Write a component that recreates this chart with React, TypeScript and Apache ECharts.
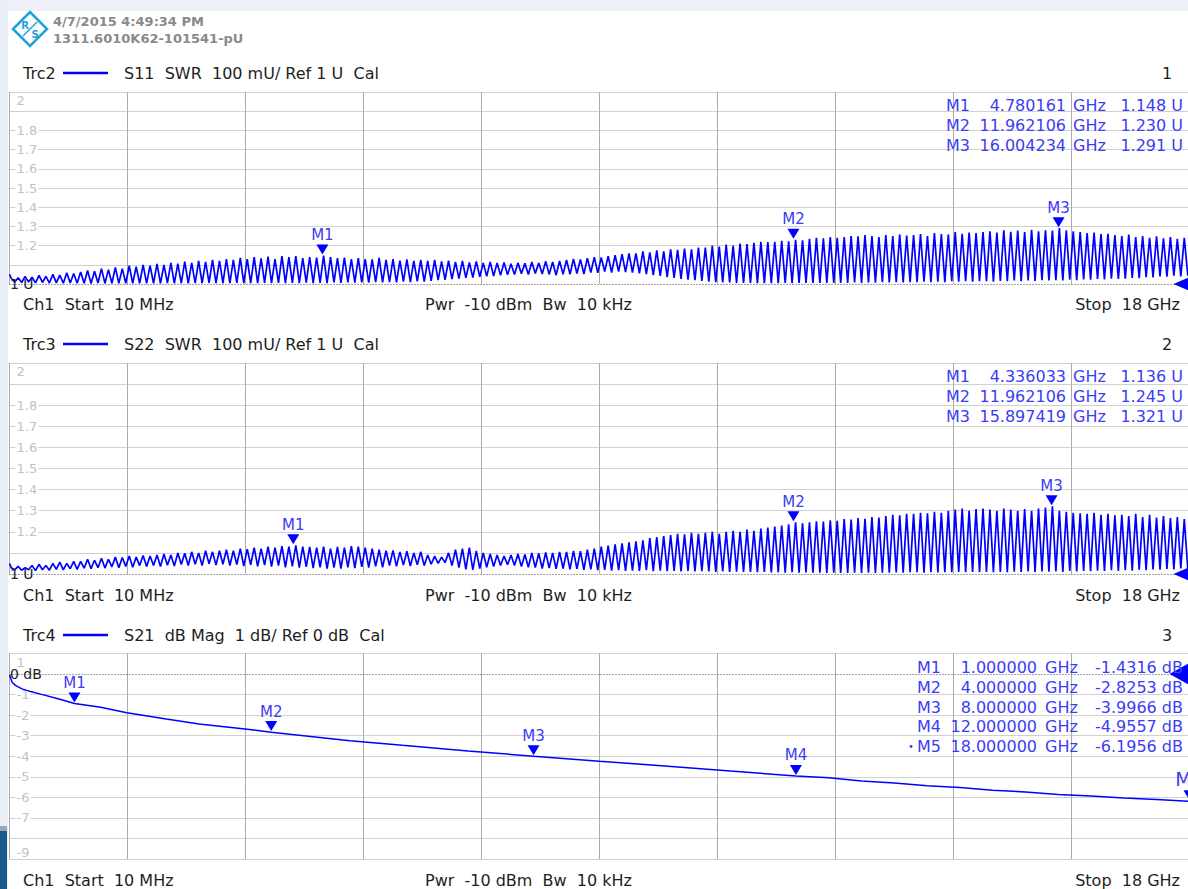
import React, { useEffect, useRef } from "react";
import * as echarts from "echarts";

// ---------- sweep / axes ----------
const START_GHZ = 0.01;
const STOP_GHZ = 18;
const SWR_TICKS = [1, 2, 0.1];
const DB_TICKS = [-9, 1, 1];

const S11_START = 1.05;
const S11_PEAKS = [
  1.030, 1.032, 1.040, 1.035, 1.045, 1.040, 1.050, 1.046, 1.058, 1.055,
  1.062, 1.070, 1.066, 1.080, 1.075, 1.086, 1.080, 1.095, 1.090, 1.100,
  1.096, 1.105, 1.100, 1.110, 1.106, 1.116, 1.110, 1.120, 1.115, 1.126,
  1.120, 1.130, 1.125, 1.136, 1.130, 1.140, 1.134, 1.142, 1.130, 1.145,
  1.140, 1.145, 1.135, 1.140, 1.138, 1.148, 1.140, 1.135, 1.138, 1.130,
  1.135, 1.130, 1.128, 1.136, 1.125, 1.130, 1.122, 1.128, 1.120, 1.125,
  1.120, 1.125, 1.118, 1.122, 1.115, 1.120, 1.112, 1.118, 1.110, 1.115,
  1.110, 1.112, 1.105, 1.110, 1.108, 1.115, 1.110, 1.118, 1.115, 1.120,
  1.125, 1.130, 1.128, 1.135, 1.140, 1.138, 1.145, 1.150, 1.155, 1.160,
  1.160, 1.170, 1.165, 1.175, 1.170, 1.180, 1.178, 1.185, 1.180, 1.190,
  1.190, 1.200, 1.195, 1.205, 1.200, 1.210, 1.208, 1.215, 1.220, 1.218,
  1.220, 1.225, 1.222, 1.230, 1.228, 1.235, 1.240, 1.238, 1.245, 1.240,
  1.245, 1.250, 1.248, 1.255, 1.250, 1.245, 1.255, 1.250, 1.258, 1.252,
  1.255, 1.260, 1.250, 1.265, 1.260, 1.258, 1.270, 1.262, 1.268, 1.265,
  1.270, 1.275, 1.268, 1.280, 1.272, 1.278, 1.270, 1.282, 1.275, 1.280,
  1.278, 1.291, 1.280, 1.275, 1.270, 1.265, 1.268, 1.260, 1.262, 1.255,
  1.250, 1.258, 1.245, 1.250, 1.240, 1.248, 1.238, 1.245, 1.235, 1.240,
];
const S11_TROUGHS = [
  1.010, 1.008, 1.010, 1.006, 1.008, 1.005, 1.006, 1.004, 1.005, 1.004,
  1.004, 1.003, 1.005, 1.003, 1.004, 1.003, 1.004, 1.003, 1.004, 1.003,
  1.004, 1.003, 1.005, 1.003, 1.004, 1.003, 1.005, 1.004, 1.006, 1.004,
  1.005, 1.004, 1.006, 1.004, 1.005, 1.004, 1.006, 1.005, 1.006, 1.005,
  1.006, 1.005, 1.007, 1.005, 1.006, 1.005, 1.008, 1.006, 1.008, 1.007,
  1.008, 1.007, 1.010, 1.008, 1.010, 1.009, 1.012, 1.010, 1.014, 1.012,
  1.016, 1.020, 1.022, 1.026, 1.028, 1.032, 1.034, 1.038, 1.040, 1.042,
  1.045, 1.048, 1.050, 1.054, 1.050, 1.055, 1.052, 1.050, 1.046, 1.050,
  1.050, 1.055, 1.052, 1.060, 1.058, 1.065, 1.060, 1.065, 1.062, 1.060,
  1.056, 1.052, 1.046, 1.042, 1.036, 1.032, 1.026, 1.022, 1.020, 1.016,
  1.012, 1.010, 1.008, 1.008, 1.006, 1.005, 1.005, 1.004, 1.004, 1.004,
  1.004, 1.005, 1.004, 1.006, 1.005, 1.006, 1.005, 1.006, 1.005, 1.006,
  1.006, 1.008, 1.006, 1.008, 1.007, 1.010, 1.008, 1.010, 1.008, 1.010,
  1.010, 1.012, 1.010, 1.012, 1.010, 1.014, 1.012, 1.014, 1.012, 1.015,
  1.015, 1.012, 1.016, 1.014, 1.018, 1.015, 1.018, 1.016, 1.020, 1.018,
  1.020, 1.018, 1.022, 1.020, 1.024, 1.022, 1.026, 1.024, 1.028, 1.026,
  1.028, 1.032, 1.030, 1.036, 1.034, 1.040, 1.038, 1.044, 1.040, 1.046,
];

// ---------- S22 (Trc3) ripple ----------
const S22_START = 1.05;
const S22_PEAKS = [
  1.030, 1.036, 1.030, 1.040, 1.046, 1.040, 1.050, 1.056, 1.050, 1.060,
  1.060, 1.070, 1.065, 1.075, 1.070, 1.080, 1.078, 1.085, 1.080, 1.088,
  1.085, 1.090, 1.095, 1.090, 1.100, 1.098, 1.105, 1.100, 1.110, 1.105,
  1.110, 1.115, 1.110, 1.120, 1.118, 1.125, 1.120, 1.130, 1.125, 1.132,
  1.130, 1.136, 1.130, 1.128, 1.125, 1.130, 1.120, 1.128, 1.125, 1.132,
  1.130, 1.125, 1.120, 1.115, 1.110, 1.112, 1.105, 1.108, 1.100, 1.105,
  1.090, 1.085, 1.080, 1.100, 1.115, 1.120, 1.125, 1.110, 1.100, 1.095,
  1.090, 1.085, 1.090, 1.095, 1.092, 1.100, 1.098, 1.102, 1.100, 1.105,
  1.105, 1.110, 1.108, 1.115, 1.120, 1.130, 1.135, 1.140, 1.145, 1.150,
  1.155, 1.160, 1.170, 1.175, 1.180, 1.185, 1.190, 1.188, 1.195, 1.190,
  1.195, 1.200, 1.190, 1.200, 1.205, 1.200, 1.210, 1.205, 1.215, 1.220,
  1.225, 1.230, 1.235, 1.245, 1.240, 1.245, 1.250, 1.248, 1.255, 1.252,
  1.260, 1.258, 1.265, 1.262, 1.270, 1.268, 1.275, 1.280, 1.278, 1.285,
  1.285, 1.290, 1.288, 1.295, 1.290, 1.300, 1.305, 1.310, 1.300, 1.308,
  1.310, 1.305, 1.300, 1.310, 1.305, 1.300, 1.308, 1.300, 1.310, 1.315,
  1.321, 1.300, 1.295, 1.290, 1.288, 1.285, 1.290, 1.280, 1.285, 1.278,
  1.280, 1.275, 1.285, 1.270, 1.280, 1.268, 1.275, 1.265, 1.270, 1.260,
];
const S22_TROUGHS = [
  1.020, 1.018, 1.020, 1.016, 1.020, 1.018, 1.022, 1.020, 1.025, 1.022,
  1.028, 1.025, 1.030, 1.028, 1.034, 1.030, 1.036, 1.032, 1.040, 1.035,
  1.040, 1.036, 1.042, 1.038, 1.045, 1.040, 1.046, 1.040, 1.048, 1.042,
  1.046, 1.040, 1.045, 1.038, 1.044, 1.036, 1.042, 1.035, 1.040, 1.032,
  1.036, 1.030, 1.034, 1.028, 1.032, 1.026, 1.030, 1.026, 1.032, 1.028,
  1.034, 1.030, 1.036, 1.032, 1.040, 1.036, 1.042, 1.038, 1.044, 1.040,
  1.046, 1.050, 1.054, 1.040, 1.030, 1.022, 1.020, 1.026, 1.032, 1.036,
  1.040, 1.044, 1.040, 1.036, 1.032, 1.030, 1.026, 1.028, 1.024, 1.026,
  1.022, 1.024, 1.020, 1.022, 1.018, 1.020, 1.016, 1.018, 1.015, 1.016,
  1.015, 1.018, 1.014, 1.016, 1.014, 1.015, 1.012, 1.014, 1.012, 1.013,
  1.012, 1.010, 1.012, 1.010, 1.011, 1.010, 1.010, 1.009, 1.010, 1.008,
  1.008, 1.006, 1.008, 1.006, 1.007, 1.006, 1.006, 1.005, 1.006, 1.005,
  1.005, 1.006, 1.005, 1.006, 1.005, 1.006, 1.006, 1.007, 1.006, 1.008,
  1.008, 1.006, 1.008, 1.007, 1.009, 1.008, 1.010, 1.008, 1.010, 1.009,
  1.010, 1.008, 1.010, 1.009, 1.011, 1.010, 1.012, 1.010, 1.012, 1.011,
  1.012, 1.010, 1.014, 1.012, 1.015, 1.013, 1.016, 1.014, 1.018, 1.015,
  1.018, 1.016, 1.020, 1.018, 1.022, 1.020, 1.024, 1.022, 1.026, 1.024,
];

// ---------- S21 (Trc4) insertion loss ----------
const S21_FREQ = [0.01, 0.05, 0.1, 0.2, 0.3, 0.5, 0.75, 1, 1.4, 1.8, 2.4, 2.9, 3.6, 4, 5.2, 6, 7, 8, 9, 10, 11, 12,
  12.5, 13, 13.5, 14, 14.5, 15, 15.5, 16, 16.5, 17, 17.5, 18];
const S21_DB = [-0.05, -0.4, -0.55, -0.72, -0.82, -0.99, -1.2, -1.43, -1.62, -1.88, -2.19, -2.43, -2.67, -2.83, -3.24, -3.47, -3.74, -4.0, -4.24, -4.47, -4.72, -4.96,
  -5.05, -5.2, -5.3, -5.43, -5.52, -5.65, -5.74, -5.86, -5.93, -6.03, -6.1, -6.2];

// ---------- markers ----------
const S11_MK_NAMES = ["M1", "M2", "M3"];
const S11_MK_FREQ = [4.780161, 11.962106, 16.004234];
const S11_MK_VAL = [1.148, 1.23, 1.291];
const S22_MK_NAMES = ["M1", "M2", "M3"];
const S22_MK_FREQ = [4.336033, 11.962106, 15.897419];
const S22_MK_VAL = [1.136, 1.245, 1.321];
const S21_MK_NAMES = ["M1", "M2", "M3", "M4", "M5"];
const S21_MK_FREQ = [1, 4, 8, 12, 18];
const S21_MK_VAL = [-1.4316, -2.8253, -3.9966, -4.9557, -6.1956];

// ---------- texts ----------
const STAMP = ["4/7/2015 4:49:34 PM", "1311.6010K62-101541-pU"];
const TRACE_NAMES = ["Trc2", "Trc3", "Trc4"];
const TRACE_DESC = ["S11  SWR  100 mU/ Ref 1 U  Cal", "S22  SWR  100 mU/ Ref 1 U  Cal", "S21  dB Mag  1 dB/ Ref 0 dB  Cal"];
const PANEL_NUMS = ["1", "2", "3"];
const FOOT_LEFT = "Ch1  Start  10 MHz";
const FOOT_MID = "Pwr  -10 dBm  Bw  10 kHz";
const FOOT_RIGHT = "Stop  18 GHz";

const FONT = '"DejaVu Sans", Verdana, sans-serif';
const BLUE = "#0000ff";
const MK_TEXT = "#3c3cf6";
const GRID_H = "#d0d0d0";
const GRID_V = "#aaaaaa";
const LABEL_GRAY = "#c2c2c2";

const GRIDS = [
  { left: 9.5, top: 92, width: 1180, height: 192 },
  { left: 9.5, top: 363, width: 1180, height: 211 },
  { left: 9.5, top: 653.5, width: 1180, height: 205.5 },
];
const HEAD_Y = [73, 344, 635];
const FOOT_Y = [304, 595, 880];

function sweep(start: number, peaks: number[], troughs: number[]) {
  const n = peaks.length;
  const step = (STOP_GHZ - START_GHZ) / n;
  const pts: number[][] = [[START_GHZ, start]];
  for (let i = 0; i < n; i++) {
    pts.push([START_GHZ + (i + 0.25) * step, peaks[i]]);
    pts.push([START_GHZ + (i + 0.75) * step, troughs[i]]);
  }
  pts.push([STOP_GHZ, troughs[n - 1]]);
  return pts;
}

function markerPoints(names: string[], freqs: number[], vals: number[], bigLast: boolean) {
  return names.map((nm, i) => {
    const big = bigLast && i === names.length - 1;
    return {
      coord: [freqs[i], vals[i]],
      symbol: "path://M0,0L12,0L6,10Z",
      symbolSize: [12, 10],
      symbolOffset: [0, -6],
      itemStyle: { color: BLUE },
      label: {
        show: true,
        position: "top",
        distance: 2,
        formatter: nm,
        color: MK_TEXT,
        fontSize: big ? 19 : 15,
        fontFamily: FONT,
      },
    };
  });
}

function refPoints(refVal: number, refText: string, arrowSize: number[]) {
  return [
    {
      coord: [START_GHZ, refVal],
      symbol: "circle",
      symbolSize: 1,
      itemStyle: { color: "rgba(0,0,0,0)" },
      label: { show: true, position: "right", distance: 0, formatter: refText, color: "#222", fontSize: 14, fontFamily: FONT },
    },
    {
      coord: [STOP_GHZ, refVal],
      symbol: "triangle",
      symbolRotate: 90,
      symbolSize: arrowSize,
      symbolOffset: [-arrowSize[1] / 2, 0],
      itemStyle: { color: BLUE },
      label: { show: false },
    },
  ];
}

function yAxisFor(gi: number, ticks: number[], fmt: (v: number) => string, refIndex: number) {
  const [mn, mx, iv] = ticks;
  const n = Math.round((mx - mn) / iv) + 1;
  const colors: string[] = [];
  for (let i = 0; i < n; i++) colors.push(i === refIndex ? "rgba(0,0,0,0)" : GRID_H);
  return {
    type: "value",
    gridIndex: gi,
    min: mn,
    max: mx,
    interval: iv,
    axisLine: { show: true, lineStyle: { color: GRID_V, width: 1 } },
    axisTick: { show: false },
    splitLine: { show: true, lineStyle: { color: colors, width: 1 } },
    axisLabel: {
      inside: true,
      margin: 6,
      formatter: fmt,
      color: LABEL_GRAY,
      fontSize: 13,
      fontFamily: FONT,
      rich: {
        n: { backgroundColor: "#fff", padding: [0, 1], color: LABEL_GRAY, fontSize: 13, fontFamily: FONT },
        t: { padding: [17, 1, 0, 1], color: LABEL_GRAY, fontSize: 13, fontFamily: FONT },
        b: { padding: [0, 1, 14, 1], color: LABEL_GRAY, fontSize: 13, fontFamily: FONT },
      },
    },
  };
}

const swrFmt = (v: number) => {
  const r = Math.round(v * 10) / 10;
  if (r === 2) return "{t|2}";
  if (r <= 1.15 || Math.abs(r - 1.9) < 0.01) return "";
  return "{n|" + r.toFixed(1) + "}";
};
const dbFmt = (v: number) => {
  const r = Math.round(v);
  if (r === 1) return "{t|1}";
  if (r === -9) return "{b|-9}";
  if (r === 0 || r === -8) return "";
  return "{n|" + r + "}";
};

function txt(x: number, y: number, text: string, opts: any = {}) {
  return {
    type: "text",
    x,
    y,
    silent: true,
    z: 50,
    style: {
      text,
      fill: opts.fill || "#1e1e1e",
      font: opts.font || `16px ${FONT}`,
      textAlign: opts.align || "left",
      align: opts.align || "left",
      textVerticalAlign: "middle",
      verticalAlign: "middle",
    },
  };
}

function markerTable(rowsY: number[], nameX: number, numRight: number, unitX: number, valRight: number,
  names: string[], freqs: number[], vals: number[], digits: number, unit: string, bullet: boolean) {
  const out: any[] = [];
  names.forEach((nm, i) => {
    const y = rowsY[i];
    const f = { fill: MK_TEXT };
    out.push(txt(nameX, y, nm, f));
    out.push(txt(numRight, y, freqs[i].toFixed(6), { ...f, align: "right" }));
    out.push(txt(unitX, y, "GHz", f));
    out.push(txt(valRight, y, vals[i].toFixed(digits) + " " + unit, { ...f, align: "right" }));
    if (bullet && i === names.length - 1) out.push(txt(nameX - 6, y, "•", { ...f, font: `10px ${FONT}`, align: "center" }));
  });
  return out;
}

export default function App() {
  const ref = useRef<HTMLDivElement>(null);
  useEffect(() => {
    document.body.style.margin = "0";
    if (!ref.current) return;
    const chart = echarts.init(ref.current, undefined, { renderer: "svg" });

    const xAxis: any[] = [];
    GRIDS.forEach((_, gi) => {
      xAxis.push({ type: "value", gridIndex: gi, min: START_GHZ, max: STOP_GHZ, show: false });
      xAxis.push({
        type: "value",
        gridIndex: gi,
        min: 0,
        max: 10,
        interval: 1,
        position: "bottom",
        axisLine: { show: false },
        axisTick: { show: false },
        axisLabel: { show: false },
        splitLine: { show: true, lineStyle: { color: GRID_V, width: 1 } },
      });
    });

    const yAxis = [
      yAxisFor(0, SWR_TICKS, swrFmt, 0),
      yAxisFor(1, SWR_TICKS, swrFmt, 0),
      yAxisFor(2, DB_TICKS, dbFmt, 9),
    ];

    const refLine = (val: number) => ({
      silent: true,
      symbol: "none",
      label: { show: false },
      lineStyle: { color: "#444", type: [1, 2], width: 1 },
      data: [{ yAxis: val }],
    });

    const lineSeries = (xi: number, yi: number, data: number[][], markPts: any[], refVal: number, width: number) => ({
      type: "line",
      xAxisIndex: xi,
      yAxisIndex: yi,
      data,
      showSymbol: false,
      symbol: "none",
      lineStyle: { color: BLUE, width },
      z: 3,
      markLine: refLine(refVal),
      markPoint: { silent: true, data: markPts },
    });

    const s21Data = S21_FREQ.map((f, i) => [f, S21_DB[i]]);

    const series = [
      lineSeries(0, 0, sweep(S11_START, S11_PEAKS, S11_TROUGHS),
        [...refPoints(1, "1 U", [14, 16]), ...markerPoints(S11_MK_NAMES, S11_MK_FREQ, S11_MK_VAL, false)], 1, 1.7),
      lineSeries(2, 1, sweep(S22_START, S22_PEAKS, S22_TROUGHS),
        [...refPoints(1, "1 U", [14, 16]), ...markerPoints(S22_MK_NAMES, S22_MK_FREQ, S22_MK_VAL, false)], 1, 1.7),
      lineSeries(4, 2, s21Data,
        [...refPoints(0, "0 dB", [22, 20]), ...markerPoints(S21_MK_NAMES, S21_MK_FREQ, S21_MK_VAL, true)], 0, 1.5),
    ];

    const graphic: any[] = [
      { type: "rect", shape: { x: 0, y: 0, width: 1188, height: 11 }, style: { fill: "#eef1f8" }, silent: true, z: 0 },
      { type: "rect", shape: { x: 0, y: 0, width: 8, height: 889 }, style: { fill: "#eaeef6" }, silent: true, z: 0 },
      { type: "rect", shape: { x: 0, y: 826, width: 7, height: 5 }, style: { fill: "#9aa6b2" }, silent: true, z: 1 },
      { type: "rect", shape: { x: 0, y: 831, width: 7, height: 58 }, style: { fill: "#1c5a8c" }, silent: true, z: 1 },
      // R&S logo
      { type: "polygon", shape: { points: [[30, 12], [47, 29], [30, 46], [13, 29]] }, style: { fill: "none", stroke: "#1fa2dc", lineWidth: 2.5 }, silent: true, z: 50 },
      txt(25, 25, "R", { fill: "#1fa2dc", font: `bold 10px ${FONT}`, align: "center" }),
      txt(35, 34, "S", { fill: "#1fa2dc", font: `bold 10px ${FONT}`, align: "center" }),
      { type: "line", shape: { x1: 23, y1: 36, x2: 37, y2: 22 }, style: { stroke: "#1fa2dc", lineWidth: 1.5 }, silent: true, z: 50 },
      txt(53, 21, STAMP[0], { fill: "#8a8a8a", font: `bold 13px ${FONT}` }),
      txt(53, 38, STAMP[1], { fill: "#8a8a8a", font: `bold 13px ${FONT}` }),
    ];

    [0, 1, 2].forEach((p) => {
      const hy = HEAD_Y[p];
      graphic.push(txt(23, hy, TRACE_NAMES[p]));
      graphic.push({ type: "line", shape: { x1: 63, y1: hy, x2: 108, y2: hy }, style: { stroke: BLUE, lineWidth: 2.5 }, silent: true, z: 50 });
      graphic.push(txt(124, hy, TRACE_DESC[p]));
      graphic.push(txt(1167, hy, PANEL_NUMS[p], { align: "center" }));
      const fy = FOOT_Y[p];
      graphic.push(txt(23, fy, FOOT_LEFT));
      graphic.push(txt(425, fy, FOOT_MID));
      graphic.push(txt(1180, fy, FOOT_RIGHT, { align: "right" }));
    });

    graphic.push(...markerTable([105, 125, 145], 946, 1066, 1073, 1183, S11_MK_NAMES, S11_MK_FREQ, S11_MK_VAL, 3, "U", false));
    graphic.push(...markerTable([376, 396, 416], 946, 1066, 1073, 1183, S22_MK_NAMES, S22_MK_FREQ, S22_MK_VAL, 3, "U", false));
    graphic.push(...markerTable([667, 687, 707, 726, 746], 917, 1037, 1045, 1183, S21_MK_NAMES, S21_MK_FREQ, S21_MK_VAL, 4, "dB", true));

    chart.setOption({
      animation: false,
      backgroundColor: "#ffffff",
      grid: GRIDS.map((g) => ({ ...g, containLabel: false, outerBoundsMode: "none" })),
      xAxis,
      yAxis,
      series,
      graphic,
    });
    return () => chart.dispose();
  }, []);
  return <div ref={ref} style={{ width: 1188, height: 889 }} />;
}
